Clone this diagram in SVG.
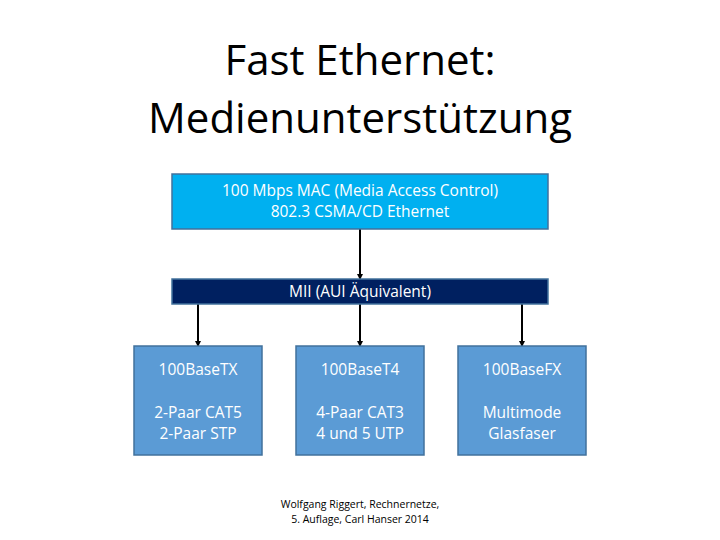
<svg xmlns="http://www.w3.org/2000/svg" width="720" height="540" viewBox="0 0 720 540">
<style>
text{font-family:"Open Sans","Liberation Sans",sans-serif;text-anchor:middle}
.t{font-size:42px;fill:#000}
.w{font-size:15.5px;fill:#fff}
.box{fill:#5B9BD5;stroke:#41719C;stroke-width:1.5}
.c{stroke:#000;stroke-width:2;fill:none;marker-end:url(#ah)}
</style>
<defs>
<marker id="ah" markerWidth="6" markerHeight="6" refX="5" refY="3" orient="auto" markerUnits="userSpaceOnUse" viewBox="0 0 6 6">
<path d="M0,0 L6,3 L0,6 Z" fill="#000"/>
</marker>
</defs>
<rect width="720" height="540" fill="#fff"/>
<g id="title">
<text class="t" x="360" y="75">Fast Ethernet:</text>
<text class="t" x="360" y="133">Medienunterstützung</text>
</g>
<g id="connectors">
<line class="c" x1="360" y1="229" x2="360" y2="279"/>
<line class="c" x1="198" y1="304" x2="198" y2="346"/>
<line class="c" x1="360" y1="304" x2="360" y2="346"/>
<line class="c" x1="522" y1="304" x2="522" y2="346"/>
</g>
<g id="mac">
<rect x="172" y="174" width="376" height="55" fill="#00B0F0" stroke="#41719C" stroke-width="1.5"/>
<text class="w" x="360" y="196">100 Mbps MAC (Media Access Control)</text>
<text class="w" x="360" y="217">802.3 CSMA/CD Ethernet</text>
</g>
<g id="mii">
<rect x="172" y="279" width="376" height="25" fill="#002060" stroke="#41719C" stroke-width="1.5"/>
<text class="w" x="360" y="297">MII (AUI Äquivalent)</text>
</g>
<g id="tx">
<rect class="box" x="134" y="346" width="128" height="109"/>
<text class="w" x="198" y="375">100BaseTX</text>
<text class="w" x="198" y="418">2-Paar CAT5</text>
<text class="w" x="198" y="439">2-Paar STP</text>
</g>
<g id="t4">
<rect class="box" x="296" y="346" width="128" height="109"/>
<text class="w" x="360" y="375">100BaseT4</text>
<text class="w" x="360" y="418">4-Paar CAT3</text>
<text class="w" x="360" y="439">4 und 5 UTP</text>
</g>
<g id="fx">
<rect class="box" x="458" y="346" width="128" height="109"/>
<text class="w" x="522" y="375">100BaseFX</text>
<text class="w" x="522" y="418">Multimode</text>
<text class="w" x="522" y="439">Glasfaser</text>
</g>
<g id="footnote">
<text x="360" y="508" font-size="10.5" fill="#000">Wolfgang Riggert, Rechnernetze,</text>
<text x="360" y="523" font-size="10.5" fill="#000">5. Auflage, Carl Hanser 2014</text>
</g>
</svg>
